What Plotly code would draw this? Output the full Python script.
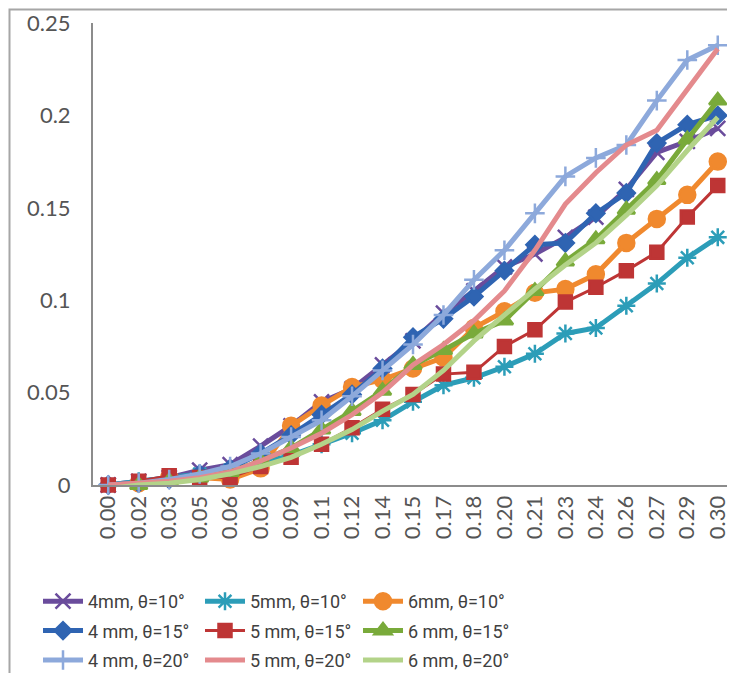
import plotly.graph_objects as go

x_labels = ["0.00", "0.02", "0.03", "0.05", "0.06", "0.08", "0.09", "0.11", "0.12", "0.14",
            "0.15", "0.17", "0.18", "0.20", "0.21", "0.23", "0.24", "0.26", "0.27", "0.29", "0.30"]

mm4_t10 = [0.000, 0.002, 0.004, 0.008, 0.011, 0.021, 0.032, 0.045, 0.052, 0.065, 0.078,
           0.093, 0.105, 0.118, 0.125, 0.134, 0.145, 0.160, 0.180, 0.186, 0.193]
mm5_t10 = [0.000, 0.002, 0.004, 0.006, 0.008, 0.012, 0.016, 0.022, 0.028, 0.035, 0.045,
           0.054, 0.058, 0.064, 0.071, 0.082, 0.085, 0.097, 0.109, 0.123, 0.134]
mm6_t10 = [-0.001, 0.001, 0.004, 0.004, 0.003, 0.009, 0.032, 0.043, 0.053, 0.057, 0.063,
           0.069, 0.085, 0.094, 0.104, 0.106, 0.114, 0.131, 0.144, 0.157, 0.175]
mm4_t15 = [0.000, 0.001, 0.003, 0.006, 0.009, 0.017, 0.027, 0.038, 0.049, 0.063, 0.080,
           0.090, 0.102, 0.116, 0.130, 0.131, 0.147, 0.158, 0.185, 0.195, 0.200]
mm5_t15 = [0.000, 0.002, 0.005, 0.004, 0.004, 0.010, 0.015, 0.022, 0.031, 0.041, 0.049,
           0.060, 0.061, 0.075, 0.084, 0.099, 0.107, 0.116, 0.126, 0.145, 0.162]
mm6_t15 = [-0.002, 0.000, 0.002, 0.004, 0.007, 0.013, 0.020, 0.030, 0.040, 0.051, 0.065,
           0.073, 0.082, 0.089, 0.105, 0.121, 0.133, 0.149, 0.165, 0.187, 0.208]
mm4_t20 = [0.000, 0.001, 0.003, 0.006, 0.010, 0.017, 0.026, 0.035, 0.048, 0.062, 0.076,
           0.092, 0.111, 0.127, 0.147, 0.167, 0.177, 0.184, 0.208, 0.230, 0.238]
mm5_t20 = [0.000, 0.001, 0.002, 0.004, 0.007, 0.013, 0.020, 0.028, 0.038, 0.050, 0.065,
           0.076, 0.089, 0.105, 0.127, 0.152, 0.169, 0.184, 0.192, 0.214, 0.236]
mm6_t20 = [-0.002, 0.000, 0.001, 0.003, 0.006, 0.010, 0.015, 0.022, 0.030, 0.040, 0.049,
           0.062, 0.078, 0.092, 0.106, 0.119, 0.131, 0.146, 0.162, 0.181, 0.199]

series_names = ["4mm, \u03b8=10\u00b0", "5mm, \u03b8=10\u00b0", "6mm, \u03b8=10\u00b0",
                "4 mm, \u03b8=15\u00b0", "5 mm, \u03b8=15\u00b0", "6 mm, \u03b8=15\u00b0",
                "4 mm, \u03b8=20\u00b0", "5 mm, \u03b8=20\u00b0", "6 mm, \u03b8=20\u00b0"]
series_values = [mm4_t10, mm5_t10, mm6_t10, mm4_t15, mm5_t15, mm6_t15, mm4_t20, mm5_t20, mm6_t20]
colors = ["#6A4C9C", "#2C9DB8", "#F0892E", "#2F64B2", "#BE3535", "#79AA3A", "#8DA9DB", "#E48A8D", "#B3D389"]
widths = [5, 5, 5, 5, 3, 5, 5, 5, 5]
symbols = ["x-thin-open", "asterisk-open", "circle", "diamond", "square", "triangle-up",
           "cross-thin-open", None, None]
sizes = [15, 15, 16, 13, 13, 15, 14, 0, 0]
legend_ids = ["legend", "legend2", "legend3"] * 3

fig = go.Figure()
for i, (name, vals, c, w, s, sz, lg) in enumerate(zip(series_names, series_values, colors, widths,
                                                      symbols, sizes, legend_ids)):
    if s is None:
        mode = "lines"
        marker = dict()
    else:
        mode = "lines+markers"
        marker = dict(symbol=s, size=sz, color=c, line=dict(color=c, width=2.5))
    fig.add_trace(go.Scatter(x=x_labels, y=vals, name=name, mode=mode, legend=lg,
                             legendgroup="g%d" % i,
                             line=dict(color=c, width=w), marker=marker, cliponaxis=False))

# figure is 727x665 (page has an 8px body margin); plot area: x 85..725, y 15..477 (fig px)
PL, PW, PB, PH = 85, 640, 477, 462
fig.add_shape(type="rect", xref="paper", yref="paper",
              x0=(1.5 - PL) / PW, x1=(760 - PL) / PW,
              y0=(PB - 700) / PH, y1=(PB - 1.5) / PH,
              line=dict(color="#A6A6A6", width=2), fillcolor="rgba(0,0,0,0)", layer="above")

leg_font = dict(family="Roboto, sans-serif", size=18, color="#404040")
def leg(xpx):
    return dict(orientation="v", x=(xpx - PL) / PW, y=(PB - 575) / PH,
                xanchor="left", yanchor="top", font=leg_font, tracegroupgap=3,
                itemwidth=40, bgcolor="rgba(0,0,0,0)")

fig.update_layout(
    width=727, height=665,
    margin=dict(l=85, r=2, t=15, b=188, autoexpand=False),
    paper_bgcolor="white", plot_bgcolor="white",
    font=dict(family="Lato, Open Sans, sans-serif", color="#555555"),
    showlegend=True,
    legend=leg(30), legend2=leg(192), legend3=leg(350),
    xaxis=dict(type="category", range=[-0.5, 20.5], tickangle=-90, showgrid=False, zeroline=False,
               showline=True, linecolor="#8C8C8C", linewidth=2, ticks="",
               tickfont=dict(size=22, color="#555555")),
    yaxis=dict(range=[0, 0.25], tickvals=[0, 0.05, 0.1, 0.15, 0.2, 0.25],
               ticktext=["0", "0.05", "0.1", "0.15", "0.2", "0.25"],
               showgrid=False, zeroline=False, showline=True, linecolor="#8C8C8C", linewidth=2,
               ticks="", ticklabelstandoff=16, tickfont=dict(size=22, color="#555555")),
)

fig.write_html("out.html")
